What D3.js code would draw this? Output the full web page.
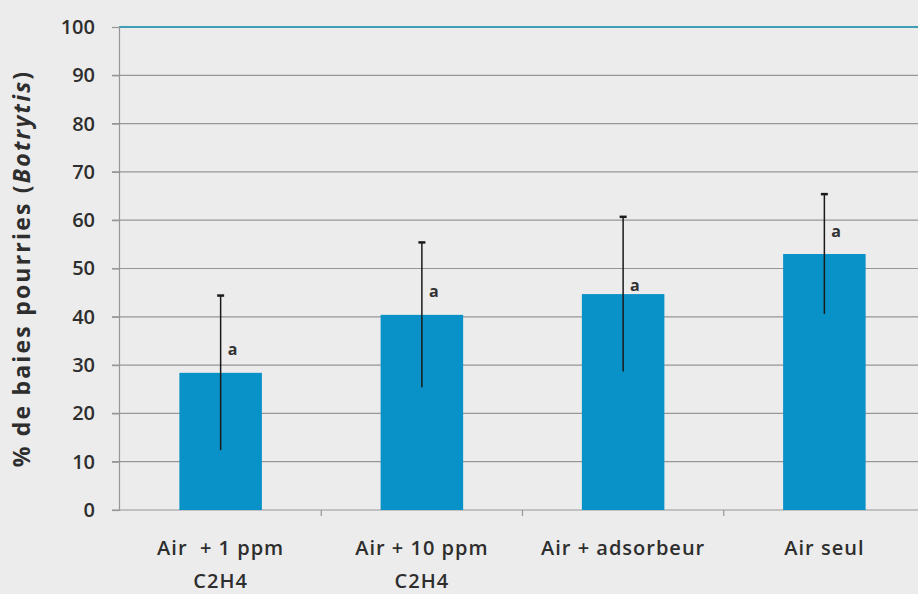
<!DOCTYPE html>
<html><head><meta charset="utf-8">
<script src="https://cdn.jsdelivr.net/npm/d3@7"></script>
<style>
html,body{margin:0;padding:0;background:#ececec;}
svg{display:block;}
</style></head>
<body>
<svg id="chart" width="918" height="594"></svg>
<script>
const categories = [["Air  + 1 ppm","C2H4"],["Air + 10 ppm","C2H4"],["Air + adsorbeur"],["Air seul"]];
const values = [28.4, 40.4, 44.7, 53.0];
const errors = [16.0, 15.0, 16.0, 12.4];
const letters = ["a","a","a","a"];
const letterValues = [32.1, 44.1, 45.3, 56.6];
const yTicks = [0,10,20,30,40,50,60,70,80,90,100];

const svg = d3.select("#chart");
const W = 918, H = 594;
const margin = {left:119, right:-8, top:27, bottom:84};
const x = d3.scaleBand().domain(d3.range(categories.length)).range([margin.left, W - margin.right]).paddingInner(0.59).paddingOuter(0.3);
const y = d3.scaleLinear().domain([0,100]).range([H - margin.bottom, margin.top]);

svg.append("rect").attr("width",W).attr("height",H).attr("fill","#ececec");

const font = "'Open Sans', 'Lato', sans-serif";
const gridCol = "#969696";

// gridlines
svg.append("g").selectAll("line").data(yTicks.filter(d=>d>0 && d<100)).join("line")
  .attr("x1", margin.left-7).attr("x2", W).attr("y1", d=>y(d)).attr("y2", d=>y(d))
  .attr("stroke",gridCol).attr("stroke-width",1.2);
svg.append("line").attr("x1",margin.left).attr("x2",W).attr("y1",y(100)).attr("y2",y(100))
  .attr("stroke","#3f9db5").attr("stroke-width",2);

// y axis
const yAxis = svg.append("g").attr("transform",`translate(${margin.left},0)`)
  .call(d3.axisLeft(y).tickValues(yTicks).tickSize(7).tickPadding(17));
yAxis.select(".domain").attr("stroke",gridCol).attr("stroke-width",1.2);
yAxis.selectAll(".tick line").attr("stroke",gridCol).attr("stroke-width",1.2);
yAxis.selectAll(".tick text").attr("font-family",font).attr("font-size",20).attr("font-weight",600).attr("fill","#2e2e2e");

// x axis
const xAxisG = svg.append("g").attr("transform",`translate(0,${y(0)})`);
xAxisG.append("line").attr("x1",margin.left-7).attr("x2",W).attr("stroke",gridCol).attr("stroke-width",1.2);
const step = x.step();
xAxisG.selectAll("line.tk").data(d3.range(1,categories.length)).join("line").attr("class","tk")
  .attr("x1", i => x(i) - x.paddingInner()*step/2).attr("x2", i => x(i) - x.paddingInner()*step/2)
  .attr("y1",0).attr("y2",6).attr("stroke",gridCol).attr("stroke-width",1.2);

const xl = svg.append("g").selectAll("text").data(categories).join("text")
  .attr("font-family",font).attr("font-size",20).attr("font-weight",600).attr("fill","#2e2e2e")
  .attr("letter-spacing",1.0)
  .attr("text-anchor","middle")
  .attr("transform",(d,i)=>`translate(${x(i)+x.bandwidth()/2},${y(0)+45})`);
xl.selectAll("tspan").data(d=>d).join("tspan").attr("x",0).attr("dy",(d,j)=>j===0?0:33).attr("xml:space","preserve").style("white-space","pre").text(d=>d);

// bars
svg.append("g").selectAll("rect").data(values).join("rect")
  .attr("x",(d,i)=>x(i)).attr("width",x.bandwidth())
  .attr("y",d=>y(d)).attr("height",d=>y(0)-y(d)).attr("fill","#0892c7");

// error bars
const eb = svg.append("g");
eb.selectAll("line.v").data(values).join("line").attr("class","v")
  .attr("x1",(d,i)=>x(i)+x.bandwidth()/2).attr("x2",(d,i)=>x(i)+x.bandwidth()/2)
  .attr("y1",(d,i)=>y(d+errors[i])).attr("y2",(d,i)=>y(d-errors[i]))
  .attr("stroke","#1a1a1a").attr("stroke-width",1.5);
eb.selectAll("line.c").data(values).join("line").attr("class","c")
  .attr("x1",(d,i)=>x(i)+x.bandwidth()/2-3.5).attr("x2",(d,i)=>x(i)+x.bandwidth()/2+3.5)
  .attr("y1",(d,i)=>y(d+errors[i])).attr("y2",(d,i)=>y(d+errors[i]))
  .attr("stroke","#1a1a1a").attr("stroke-width",2.5);

// letters
svg.append("g").selectAll("text").data(letters).join("text")
  .attr("x",(d,i)=>x(i)+x.bandwidth()/2+7).attr("y",(d,i)=>y(letterValues[i]))
  .attr("font-family",font).attr("font-size",16).attr("font-weight",700).attr("fill","#333")
  .text(d=>d);

// y label
const yl = svg.append("text").attr("transform",`translate(30,${(y(0)+y(100))/2}) rotate(-90)`)
  .attr("text-anchor","middle").attr("font-family",font).attr("font-size",23).attr("font-weight",700).attr("fill","#2e2e2e")
  .attr("letter-spacing",2.2);
yl.append("tspan").text("% de baies pourries (");
yl.append("tspan").attr("font-style","italic").text("Botrytis");
yl.append("tspan").text(")");
</script>
</body></html>
